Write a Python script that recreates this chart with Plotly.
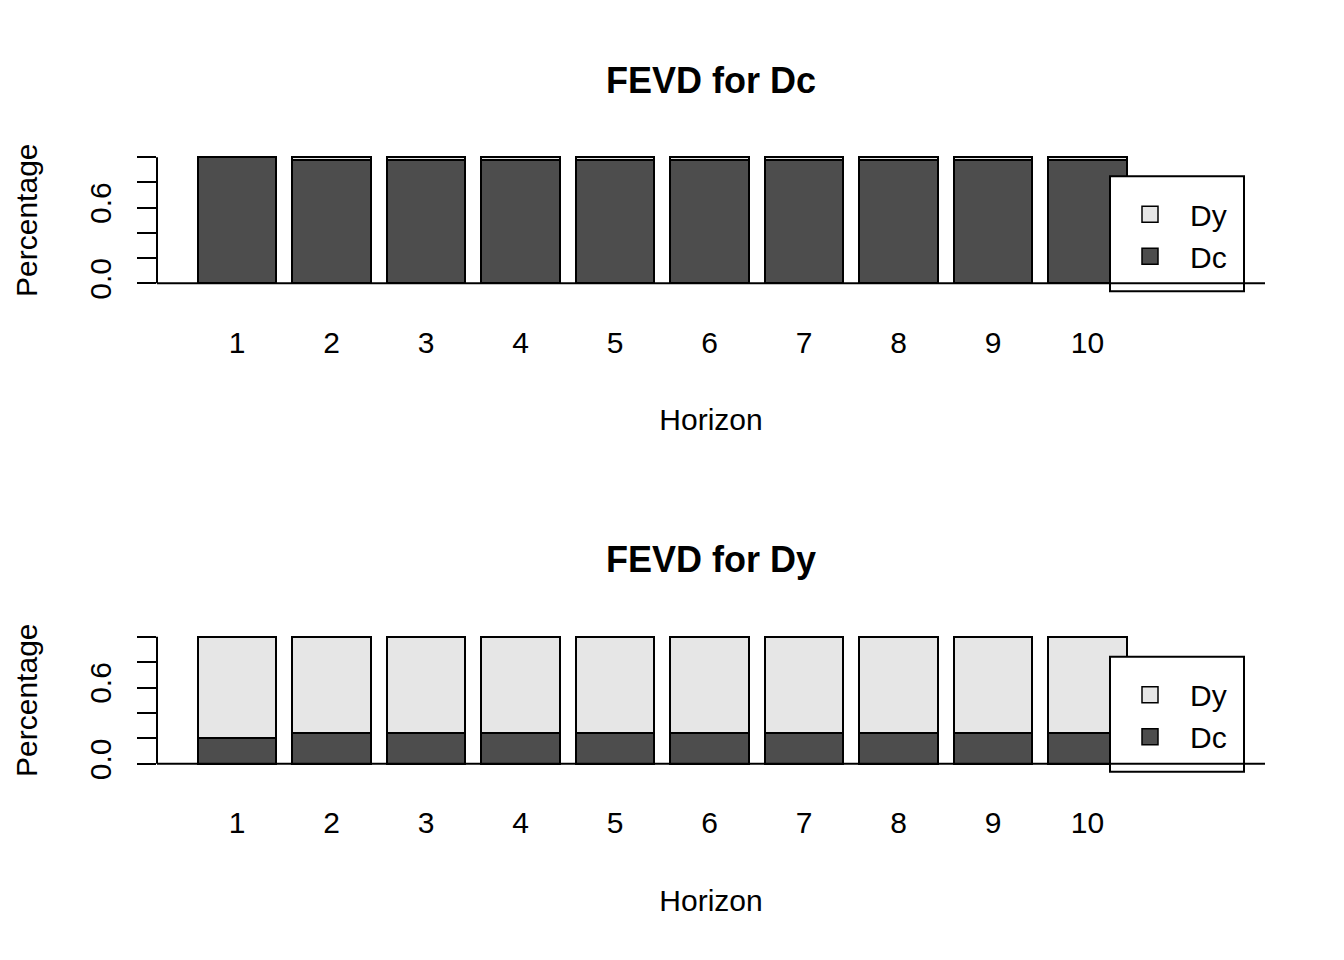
import plotly.graph_objects as go

horizons = [1, 2, 3, 4, 5, 6, 7, 8, 9, 10]

# FEVD for Dc
dc_from_dc = [1.000, 0.978, 0.978, 0.978, 0.978, 0.978, 0.978, 0.978, 0.978, 0.978]
dc_from_dy = [0.000, 0.022, 0.022, 0.022, 0.022, 0.022, 0.022, 0.022, 0.022, 0.022]

# FEVD for Dy
dy_from_dc = [0.20, 0.24, 0.24, 0.24, 0.24, 0.24, 0.24, 0.24, 0.24, 0.24]
dy_from_dy = [0.80, 0.76, 0.76, 0.76, 0.76, 0.76, 0.76, 0.76, 0.76, 0.76]

y_ticks = [0, 0.2, 0.4, 0.6, 0.8, 1.0]
y_ticktext = ['0.0', '', '', '0.6', '', '']

DARK = '#4d4d4d'
LIGHT = '#e6e6e6'
FONT = 'Liberation Sans, Arial, sans-serif'

W, H = 1344, 960   # reference pixel grid used for the fractions below
FIG_H = 970        # the page comes out squeezed a bit vertically

x_dom = [157 / W, 1265 / W]
panels = [
    # title, Dc part, Dy part, pixel row of 0 and of 1
    ('FEVD for Dc', dc_from_dc, dc_from_dy, 283, 157),
    ('FEVD for Dy', dy_from_dc, dy_from_dy, 763, 636),
]

fig = go.Figure()
shapes = []
annotations = []
YR = [-0.06, 1.06]

for i, (title, dc, dy, y0, y1) in enumerate(panels):
    n = i + 1
    xa = 'x' if n == 1 else f'x{n}'
    ya = 'y' if n == 1 else f'y{n}'
    unit = y0 - y1
    top = y1 - (YR[1] - 1) * unit
    bot = y0 - YR[0] * unit
    dom = [1 - bot / H, 1 - top / H]

    fig.add_trace(go.Bar(x=horizons, y=dc, xaxis=xa, yaxis=ya, showlegend=False,
                         marker=dict(color=DARK, line=dict(color='black', width=2)),
                         width=1 / 1.2))
    fig.add_trace(go.Bar(x=horizons, y=dy, xaxis=xa, yaxis=ya, showlegend=False,
                         marker=dict(color=LIGHT, line=dict(color='black', width=2)),
                         width=1 / 1.2))
    leg = 'legend' if n == 1 else f'legend{n}'
    for name, col in (('Dy', LIGHT), ('Dc', DARK)):
        fig.add_trace(go.Scatter(x=[None], y=[None], mode='markers', name=name, legend=leg,
                                 xaxis=xa, yaxis=ya,
                                 marker=dict(symbol='square', size=22, color=col,
                                             line=dict(color='black', width=1.5))))

    axis_x = dict(domain=x_dom, range=[0.1534, 11.878], tickmode='array',
                  tickvals=horizons, ticktext=[str(h) for h in horizons],
                  ticks='outside', ticklen=25, tickcolor='rgba(0,0,0,0)',
                  showline=False, showgrid=False, zeroline=False,
                  tickfont=dict(size=30, color='black', family=FONT),
                  title=dict(text='Horizon', font=dict(size=30, color='black', family=FONT),
                             standoff=51))
    axis_y = dict(domain=dom, range=YR, tickmode='array', tickvals=y_ticks,
                  ticktext=y_ticktext, ticks='outside', ticklen=19, tickwidth=2,
                  tickcolor='black', tickangle=-90, showline=False, showgrid=False,
                  zeroline=False, ticklabelstandoff=14,
                  tickfont=dict(size=30, color='black', family=FONT),
                  title=dict(text='Percentage', font=dict(size=30, color='black', family=FONT),
                             standoff=37))
    if n > 1:
        axis_x['anchor'] = ya
        axis_y['anchor'] = xa
    fig.update_layout({('xaxis' if n == 1 else f'xaxis{n}'): axis_x,
                       ('yaxis' if n == 1 else f'yaxis{n}'): axis_y})

    # y axis line only over 0..1, like base R
    shapes.append(dict(type='line', xref='paper', yref=ya, x0=x_dom[0], x1=x_dom[0],
                       y0=0, y1=1, line=dict(color='black', width=2)))
    # legend box
    lb_top = y0 - 107
    lb_bot = y0 + 8
    shapes.append(dict(type='rect', xref='paper', yref='paper', layer='above',
                       x0=1110 / W, x1=1244 / W, y0=1 - lb_bot / H, y1=1 - lb_top / H,
                       fillcolor='white', line=dict(color='black', width=2)))
    # zero line, drawn over the legend box
    shapes.append(dict(type='line', xref='paper', yref=ya, layer='above',
                       x0=x_dom[0], x1=x_dom[1], y0=0, y1=0,
                       line=dict(color='black', width=2)))

    annotations.append(dict(text=f'<b>{title}</b>', xref='paper', yref='paper',
                            x=(x_dom[0] + x_dom[1]) / 2, y=1 - (y1 - 77) / H,
                            xanchor='center', yanchor='middle', showarrow=False,
                            font=dict(size=36, color='black', family=FONT)))

    fig.update_layout({leg: dict(x=1110 / W, y=1 - (y0 - 95) / H, xanchor='left',
                                 yanchor='top', bgcolor='rgba(0,0,0,0)', borderwidth=0,
                                 traceorder='normal', itemwidth=70,
                                 font=dict(size=30, color='black', family=FONT),
                                 tracegroupgap=0)})

fig.update_layout(
    width=W, height=FIG_H,
    barmode='stack',
    plot_bgcolor='white', paper_bgcolor='white',
    margin=dict(l=0, r=0, t=0, b=0),
    shapes=shapes, annotations=annotations,
    font=dict(family=FONT, color='black'),
)

fig.write_html('out.html', config={'displayModeBar': False},
               post_script="var d=document.getElementById('{plot_id}');"
                           "d.style.position='absolute';d.style.top='0px';d.style.left='0px';"
                           "document.body.style.margin='0px';"
                           "document.body.style.overflow='hidden';")
